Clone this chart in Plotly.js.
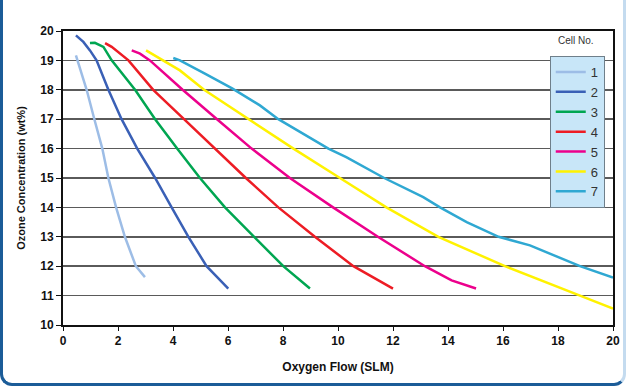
<!DOCTYPE html>
<html>
<head>
<meta charset="utf-8">
<script src="https://cdn.plot.ly/plotly-3.0.1.min.js"></script>
<style>
html,body{margin:0;padding:0;background:#ffffff;overflow:hidden;}
#frame{position:absolute;left:0;top:-30px;width:626px;height:416px;border-left:3px solid #1b5c98;border-bottom:3px solid #1b5c98;border-right:3px solid #c4dbef;border-radius:0 0 12px 12px;box-sizing:border-box;}
#chart{position:absolute;left:0;top:0;width:633px;height:391px;}
</style>
</head>
<body>
<div id="frame"></div>
<div id="chart"></div>
<script>
const cellNames = ['1','2','3','4','5','6','7'];
const cellColors = ['#9dbde6','#3a60b6','#00a651','#ed1c24','#ec008c','#fff200','#2fa8d2'];

const x1 = [0.47, 0.68, 0.86, 1.14, 1.43, 1.65, 1.93, 2.25, 2.65, 2.98];
const y1 = [19.17, 18.55, 18.0, 17.0, 16.0, 15.0, 14.0, 13.0, 12.0, 11.63];

const x2 = [0.47, 0.74, 0.98, 1.22, 1.65, 2.13, 2.7, 3.35, 3.95, 4.56, 5.22, 6.01];
const y2 = [19.85, 19.63, 19.34, 19.0, 18.0, 17.0, 16.0, 15.0, 14.0, 13.0, 12.0, 11.24];

const x3 = [0.98, 1.16, 1.47, 1.77, 2.62, 3.35, 4.15, 4.98, 5.89, 6.95, 8.01, 8.98];
const y3 = [19.59, 19.6, 19.46, 19.0, 18.0, 17.0, 16.0, 15.0, 14.0, 13.0, 12.0, 11.24];

const x4 = [1.53, 1.77, 2.38, 3.28, 4.4, 5.53, 6.65, 7.83, 9.16, 10.56, 12.0];
const y4 = [19.59, 19.46, 19.0, 18.0, 17.0, 16.0, 15.0, 14.0, 13.0, 12.0, 11.24];

const x5 = [2.5, 2.8, 3.16, 4.35, 5.6, 6.86, 8.25, 9.82, 11.45, 13.16, 14.13, 15.02];
const y5 = [19.34, 19.23, 19.0, 18.0, 17.0, 16.0, 15.0, 14.0, 13.0, 12.0, 11.52, 11.24];

const x6 = [3.02, 3.65, 4.25, 5.13, 6.74, 8.38, 10.07, 11.76, 13.65, 16.07, 18.8, 20.0];
const y6 = [19.34, 19.0, 18.66, 18.0, 17.0, 16.0, 15.0, 14.0, 13.0, 12.0, 11.0, 10.56];

const x7 = [4.01, 4.25, 5.16, 6.15, 7.16, 7.83, 9.65, 10.3, 11.68, 13.1, 13.71, 14.68, 15.84, 16.98, 18.8, 20.0];
const y7 = [19.08, 19.0, 18.55, 18.05, 17.47, 17.0, 16.0, 15.71, 15.0, 14.35, 14.0, 13.5, 13.0, 12.71, 12.0, 11.61];

const xs = [x1,x2,x3,x4,x5,x6,x7];
const ys = [y1,y2,y3,y4,y5,y6,y7];

const xTicks = [0,2,4,6,8,10,12,14,16,18,20];
const yTicks = [10,11,12,13,14,15,16,17,18,19,20];

const traces = cellNames.map((n,i)=>({
  type:'scatter', mode:'lines', name:n, x:xs[i], y:ys[i],
  line:{color:cellColors[i], width:2.5}
}));

const fam = '"Liberation Sans", Arial, sans-serif';
const tickFont = {family:fam, size:12, color:'#111', weight:'bold'};

const layout = {
  width:633, height:391,
  margin:{l:63, r:20, t:31, b:66},
  paper_bgcolor:'rgba(0,0,0,0)',
  plot_bgcolor:'#ffffff',
  showlegend:true,
  xaxis:{
    range:[0,20], tickvals:xTicks, ticktext:xTicks.map(String),
    showgrid:false, zeroline:false,
    showline:true, linecolor:'#111', linewidth:2, mirror:true,
    ticks:'outside', ticklen:4, tickcolor:'#111', tickwidth:1,
    tickfont:tickFont,
    title:{text:'<b>Oxygen Flow (SLM)</b>', font:{family:fam, size:12, color:'#111'}, standoff:15}
  },
  yaxis:{
    range:[10,20], tickvals:yTicks, ticktext:yTicks.map(String),
    showgrid:true, gridcolor:'#5a5a5a', gridwidth:1.5, zeroline:false,
    showline:true, linecolor:'#111', linewidth:2, mirror:true,
    ticks:'outside', ticklen:5, tickcolor:'#111', tickwidth:1,
    tickfont:tickFont,
    title:{text:'<b>Ozone Concentration (wt%)</b>', font:{family:fam, size:11, color:'#111'}, standoff:12}
  },
  legend:{
    x:0.885, y:0.915, xanchor:'left', yanchor:'top',
    bgcolor:'#c8e6f8', bordercolor:'#6f7f8a', borderwidth:1,
    font:{family:fam, size:13, color:'#333'},
    tracegroupgap:0, itemwidth:30
  },
  annotations:[{
    text:'Cell No.', xref:'paper', yref:'paper', x:0.933, y:0.942,
    xanchor:'center', yanchor:'bottom', showarrow:false,
    font:{family:fam, size:10, color:'#333'}
  }]
};

Plotly.newPlot('chart', traces, layout, {displayModeBar:false, staticPlot:true});
</script>
</body>
</html>
